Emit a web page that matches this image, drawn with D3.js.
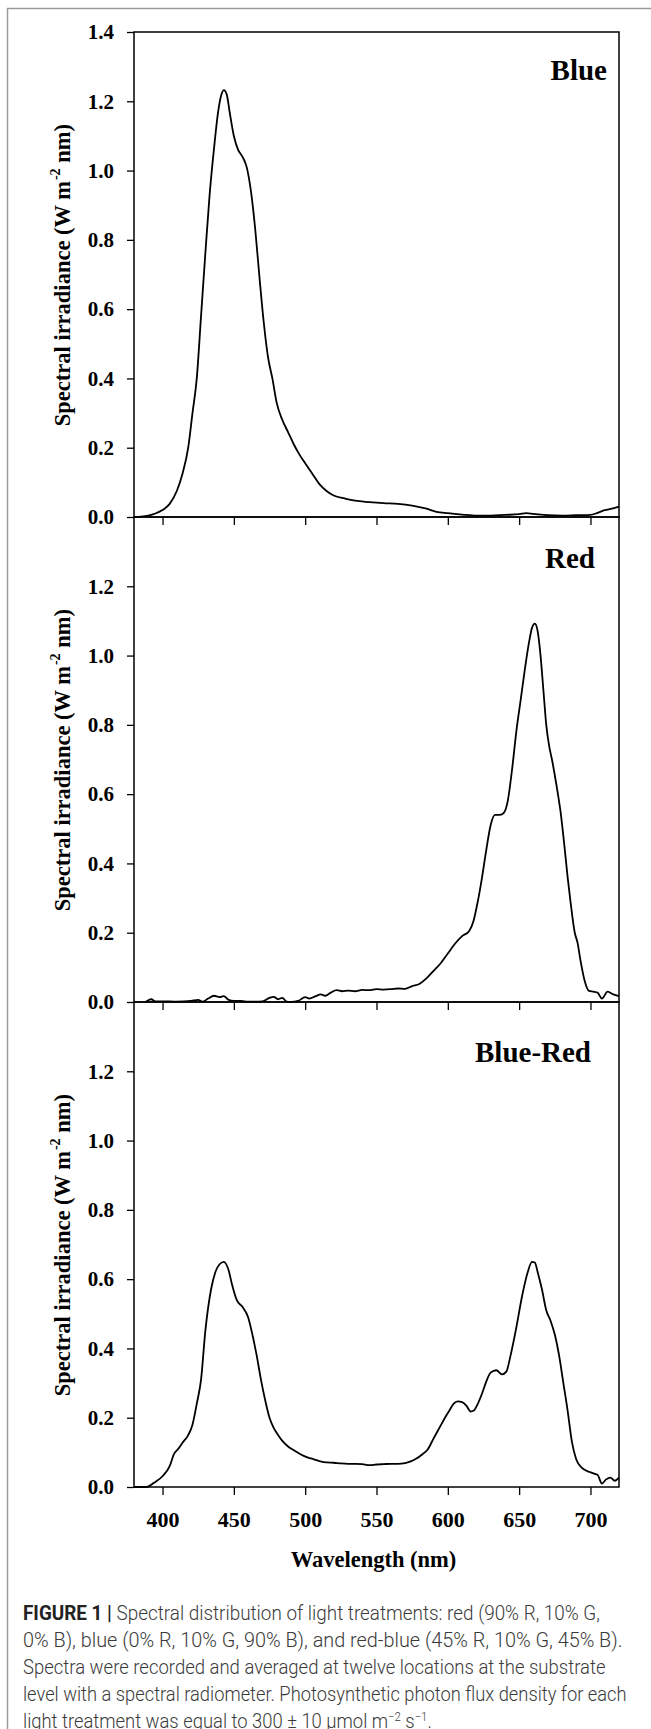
<!DOCTYPE html>
<html>
<head>
<meta charset="utf-8">
<script src="https://cdn.jsdelivr.net/npm/d3@7"></script>
<style>
  body { margin: 0; background: #fff; }
  svg { display: block; }
</style>
</head>
<body>
<div id="chart"></div>
<script>
// wavelength (nm), spectral irradiance (W m-2 nm-1)
var blueSpectrum = [
  [380,0],[385,0.001],[390,0.004],[395,0.01],[400,0.02],[405,0.038],[410,0.075],[414,0.125],
  [418,0.2],[421,0.3],[424,0.4],[427,0.58],[430,0.76],[433,0.93],[436,1.06],[439,1.17],
  [441,1.215],[443,1.232],[445,1.22],[447,1.17],[450,1.1],[453,1.06],[456,1.04],[459,1.01],
  [462,0.94],[465,0.83],[468,0.69],[471,0.56],[474,0.46],[477,0.4],[480,0.33],[484,0.28],
  [488,0.245],[492,0.21],[496,0.18],[500,0.155],[505,0.125],[510,0.095],[515,0.075],[520,0.062],
  [528,0.053],[535,0.047],[545,0.043],[555,0.04],[565,0.038],[575,0.033],[585,0.024],[592,0.015],
  [600,0.011],[610,0.007],[620,0.004],[630,0.004],[640,0.006],[650,0.008],[655,0.011],[660,0.009],
  [670,0.005],[680,0.004],[690,0.005],[700,0.006],[705,0.012],[710,0.02],[715,0.024],[720,0.03]
];

var redSpectrum = [
  [388,0],[390,0.005],[392,0.008],[395,0.002],[400,0.002],[410,0.001],[420,0.003],[425,0.006],
  [428,0.001],[432,0.01],[436,0.018],[440,0.014],[443,0.017],[446,0.007],[450,0.003],[455,0.003],
  [460,0.001],[465,0.001],[470,0.002],[475,0.012],[478,0.015],[481,0.008],[484,0.012],[487,0.001],
  [490,0],[495,0.003],[500,0.014],[503,0.01],[507,0.016],[511,0.022],[514,0.018],[518,0.027],
  [522,0.034],[526,0.031],[530,0.033],[535,0.031],[540,0.035],[545,0.034],[550,0.037],[555,0.036],
  [560,0.037],[565,0.039],[570,0.038],[575,0.046],[580,0.052],[585,0.068],[590,0.09],[595,0.112],
  [600,0.14],[605,0.168],[610,0.19],[615,0.205],[618,0.234],[621,0.29],[624,0.36],[627,0.44],
  [630,0.51],[633,0.54],[636,0.54],[639,0.545],[642,0.58],[645,0.67],[648,0.78],[651,0.87],
  [654,0.96],[657,1.04],[659,1.08],[661,1.092],[663,1.07],[665,1.0],[667,0.9],[669,0.8],
  [671,0.74],[673,0.7],[676,0.63],[679,0.55],[682,0.44],[684,0.36],[686,0.29],[689,0.2],
  [691,0.17],[693,0.12],[696,0.06],[699,0.032],[702,0.03],[705,0.027],[708,0.01],[712,0.03],
  [716,0.022],[720,0.017]
];

var blueRedSpectrum = [
  [380,0],[389,0],[394,0.012],[400,0.031],[405,0.06],[408,0.095],[411,0.11],[414,0.128],
  [418,0.15],[421,0.18],[424,0.24],[427,0.31],[430,0.45],[434,0.57],[437,0.62],[440,0.643],
  [443,0.65],[446,0.63],[449,0.58],[452,0.54],[456,0.52],[460,0.49],[463,0.44],[466,0.38],
  [469,0.31],[472,0.25],[475,0.2],[478,0.17],[481,0.15],[484,0.133],[488,0.117],[493,0.104],
  [497,0.094],[502,0.085],[506,0.08],[510,0.075],[515,0.071],[520,0.07],[525,0.068],[530,0.067],
  [535,0.067],[540,0.066],[545,0.063],[550,0.065],[555,0.066],[560,0.067],[565,0.067],[570,0.069],
  [574,0.074],[578,0.082],[582,0.094],[586,0.109],[590,0.14],[594,0.17],[598,0.2],[601,0.22],
  [604,0.24],[607,0.247],[610,0.245],[613,0.235],[616,0.218],[618,0.22],[621,0.24],[624,0.27],
  [627,0.305],[630,0.33],[634,0.337],[638,0.325],[641,0.333],[644,0.38],[648,0.46],[652,0.55],
  [656,0.62],[659,0.65],[661,0.648],[663,0.62],[666,0.57],[669,0.51],[672,0.48],[675,0.44],
  [678,0.38],[681,0.3],[684,0.22],[687,0.13],[690,0.08],[694,0.055],[699,0.044],[703,0.038],
  [705,0.035],[708,0.01],[711,0.022],[714,0.027],[717,0.018],[720,0.027]
];

var panelTitles = ["Blue", "Red", "Blue-Red"];
var xTicks = [400, 450, 500, 550, 600, 650, 700];
var yTicksTop = [0, 0.2, 0.4, 0.6, 0.8, 1.0, 1.2, 1.4];
var yTicksRest = [0, 0.2, 0.4, 0.6, 0.8, 1.0, 1.2];

var captionLines = [
  "Spectral distribution of light treatments: red (90% R, 10% G,",
  "0% B), blue (0% R, 10% G, 90% B), and red-blue (45% R, 10% G, 45% B).",
  "Spectra were recorded and averaged at twelve locations at the substrate",
  "level with a spectral radiometer. Photosynthetic photon flux density for each",
  "light treatment was equal to 300 \u00b1 10 \u00b5mol m"
];
// right edge of each caption line in the figure
var captionRight = [600, 623, 606, 627, 432];

var W = 651, H = 1729;
var margin = {top: 32, left: 134, right: 32},
    width = W - margin.left - margin.right,
    panelH = 485;

var serif = "'Liberation Serif', 'Times New Roman', serif";
var sans = "Roboto, 'Liberation Sans', Arial, sans-serif";

var svg = d3.select("#chart")
  .append("svg")
  .attr("width", W)
  .attr("height", H);

// thin grey frame round the figure (left and top visible)
svg.append("line").attr("x1", 7.5).attr("x2", 7.5).attr("y1", 8).attr("y2", H)
  .attr("stroke", "#9a9a9a").attr("stroke-width", 1.5);
svg.append("line").attr("x1", 7).attr("x2", W).attr("y1", 8.5).attr("y2", 8.5)
  .attr("stroke", "#9a9a9a").attr("stroke-width", 1.5);

var x = d3.scaleLinear()
  .domain([380, 720])
  .range([0, width]);

var spectra = [blueSpectrum, redSpectrum, blueRedSpectrum];
var titleRight = [473, 461, 457];
var titleBase = [48, 51, 60];

spectra.forEach(function(data, i) {
  var top = margin.top + i * panelH;
  var g = svg.append("g")
    .attr("transform", "translate(" + margin.left + "," + top + ")");

  var y = d3.scaleLinear()
    .domain([0, 1.4])
    .range([panelH, 0]);

  // y axis
  var yAxis = g.append("g")
    .call(d3.axisLeft(y)
      .tickValues(i == 0 ? yTicksTop : yTicksRest)
      .tickSize(7)
      .tickPadding(13)
      .tickFormat(d3.format(".1f")));
  yAxis.select(".domain").remove();
  yAxis.selectAll("line").attr("stroke", "#000").attr("stroke-width", 1.3);
  yAxis.selectAll("text")
    .style("font-family", serif)
    .style("font-weight", "bold")
    .style("font-size", "21px")
    .attr("fill", "#000");

  // x axis (labels only under the last panel)
  var xAxis = g.append("g")
    .attr("transform", "translate(0," + panelH + ")")
    .call(d3.axisBottom(x)
      .tickValues(xTicks)
      .tickSize(8)
      .tickPadding(16)
      .tickFormat(i == 2 ? d3.format("d") : ""));
  xAxis.select(".domain").remove();
  xAxis.selectAll("line").attr("stroke", "#000").attr("stroke-width", 1.3);
  xAxis.selectAll("text")
    .style("font-family", serif)
    .style("font-weight", "bold")
    .style("font-size", "22px")
    .attr("fill", "#000");

  // frame
  g.append("rect")
    .attr("x", 0).attr("y", 0)
    .attr("width", width).attr("height", panelH)
    .attr("fill", "none")
    .attr("stroke", "#000")
    .attr("stroke-width", 1.5);

  // spectrum
  g.append("path")
    .datum(data)
    .attr("d", d3.line()
      .x(function(d) { return x(d[0]); })
      .y(function(d) { return y(d[1]); })
      .curve(d3.curveMonotoneX))
    .attr("fill", "none")
    .attr("stroke", "#000")
    .attr("stroke-width", 1.8)
    .attr("stroke-linejoin", "round");

  // panel title
  g.append("text")
    .attr("x", titleRight[i])
    .attr("y", titleBase[i])
    .attr("text-anchor", "end")
    .style("font-family", serif)
    .style("font-weight", "bold")
    .style("font-size", "29px")
    .text(panelTitles[i]);

  // y label
  var yl = g.append("text")
    .attr("transform", "translate(-64," + 92 + ") rotate(-90)")
    .attr("text-anchor", "end")
    .style("font-family", serif)
    .style("font-weight", "bold")
    .style("font-size", "22.5px");
  yl.append("tspan").text("Spectral irradiance (W m");
  yl.append("tspan").attr("dy", -10).attr("dx", 1).style("font-size", "14px").text("-2");
  yl.append("tspan").attr("dy", 10).text(" nm)");
});

// x label
svg.append("text")
  .attr("x", margin.left + width / 2 - 3)
  .attr("y", 1567)
  .attr("text-anchor", "middle")
  .style("font-family", serif)
  .style("font-weight", "bold")
  .style("font-size", "22.5px")
  .text("Wavelength (nm)");

// caption
var cap = svg.append("g")
  .style("font-family", sans)
  .style("font-size", "19.5px")
  .style("font-weight", 300)
  .attr("fill", "#3a3a3a");

captionLines.forEach(function(line, i) {
  var base = 1620 + i * 27;
  var t = cap.append("text")
    .attr("x", 0)
    .attr("y", 0);
  if (i == 0) {
    t.append("tspan").style("font-weight", "bold").attr("fill", "#222").text("FIGURE 1 | ");
  }
  t.append("tspan").text(line);
  if (i == 4) {
    t.append("tspan").attr("dy", -7).style("font-size", "12px").text("\u22122");
    t.append("tspan").attr("dy", 7).text(" s");
    t.append("tspan").attr("dy", -7).style("font-size", "12px").text("\u22121");
    t.append("tspan").attr("dy", 7).text(".");
  }
  // squeeze each line to the width it has in the figure
  var len = t.node().getComputedTextLength();
  var k = (captionRight[i] - 23) / len;
  t.attr("transform", "translate(23," + base + ") scale(" + k + ",1)");
});
</script>
</body>
</html>
